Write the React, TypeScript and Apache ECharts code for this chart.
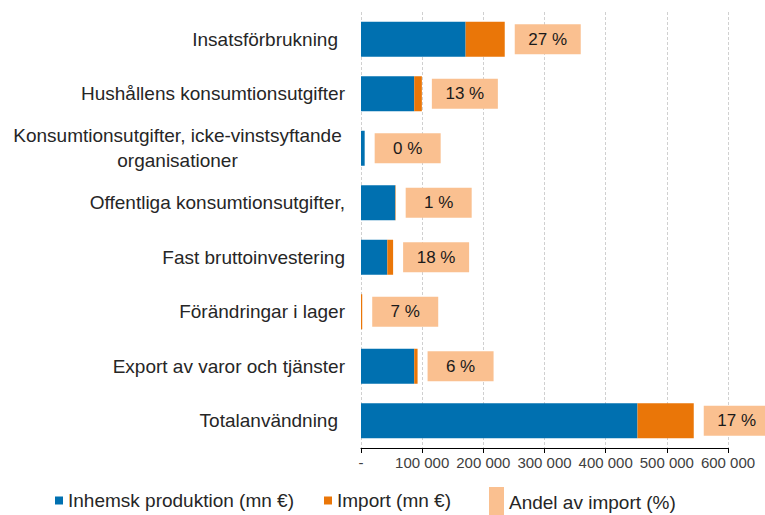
import React, { useEffect, useRef } from "react";
import * as echarts from "echarts";

const categories = [
  "Insatsförbrukning",
  "Hushållens konsumtionsutgifter",
  "Konsumtionsutgifter, icke-vinstsyftande\norganisationer",
  "Offentliga konsumtionsutgifter,",
  "Fast bruttoinvestering",
  "Förändringar i lager",
  "Export av varor och tjänster",
  "Totalanvändning",
];
const domestic = [171000, 87000, 6000, 56000, 43000, 0, 87000, 452000];
const imports = [64000, 12500, 0, 700, 9500, 2000, 5500, 92000];
const importShare = [27, 13, 0, 1, 18, 7, 6, 17];
const seriesNames = ["Inhemsk produktion (mn €)", "Import (mn €)", "Andel av import (%)"];

const FONT = "'Liberation Sans', Arial, sans-serif";

function fmtTick(v: number): string {
  if (v === 0) return "-";
  return String(v).replace(/\B(?=(\d{3})+(?!\d))/g, " ");
}

export default function App() {
  const ref = useRef<HTMLDivElement>(null);
  useEffect(() => {
    if (!ref.current) return;
    const chart = echarts.init(ref.current, undefined, { renderer: "svg" });
    const catData = categories.map((c) =>
      c === "Insatsförbrukning" || c === "Totalanvändning"
        ? { value: c, textStyle: { padding: [0, 7, 0, 0] } }
        : c
    );
    chart.setOption({
      animation: false,
      backgroundColor: "#ffffff",
      textStyle: { fontFamily: FONT },
      grid: { left: 361, right: 37, top: 12, bottom: 67, containLabel: false },
      legend: [
        {
          data: [seriesNames[0], seriesNames[1]],
          left: 50,
          top: 486,
          icon: "rect",
          itemWidth: 8,
          itemHeight: 8,
          itemGap: 30,
          textStyle: { fontFamily: FONT, fontSize: 19, color: "#262626" },
          selectedMode: false,
        },
        {
          data: [seriesNames[2]],
          left: 484,
          top: 482,
          icon: "rect",
          itemWidth: 15,
          itemHeight: 30,
          textStyle: { fontFamily: FONT, fontSize: 19, color: "#262626" },
          selectedMode: false,
        },
      ],
      xAxis: {
        type: "value",
        min: 0,
        max: 600000,
        interval: 100000,
        axisLine: { show: true, lineStyle: { color: "#000000", width: 1 } },
        axisTick: { show: true, length: 5, lineStyle: { color: "#000000" } },
        axisLabel: {
          formatter: fmtTick,
          fontFamily: FONT,
          fontSize: 15,
          color: "#404040",
          margin: 7,
        },
        splitLine: { show: true, lineStyle: { color: "#d0d0d0", type: [3, 2], width: 1 } },
      },
      yAxis: {
        type: "category",
        data: catData,
        inverse: true,
        axisLine: { show: false },
        axisTick: { show: false },
        axisLabel: {
          margin: 16,
          fontFamily: FONT,
          fontSize: 19,
          color: "#262626",
          formatter: (v: string) => {
            if (v.indexOf("\n") >= 0) {
              return v
                .split("\n")
                .map((s) => "{c|" + s + "}")
                .join("\n");
            }
            return v;
          },
          rich: {
            c: { width: 335, align: "center", fontSize: 19, lineHeight: 25, fontFamily: FONT, color: "#262626" },
          },
        },
      },
      series: [
        {
          name: seriesNames[0],
          type: "bar",
          stack: "a",
          barWidth: 35,
          data: domestic,
          itemStyle: { color: "#0070B0" },
        },
        {
          name: seriesNames[1],
          type: "bar",
          stack: "a",
          barWidth: 35,
          data: imports,
          itemStyle: { color: "#EA7608" },
          label: {
            show: true,
            position: "right",
            distance: 10,
            formatter: (p: any) => "{b|" + importShare[p.dataIndex] + " %}",
            rich: {
              b: {
                width: 66,
                height: 30,
                lineHeight: 30,
                align: "center",
                verticalAlign: "middle",
                backgroundColor: "#FAC090",
                fontSize: 17,
                fontFamily: FONT,
                color: "#1a1a1a",
              },
            },
          },
        },
        {
          name: seriesNames[2],
          type: "bar",
          stack: "a",
          data: [],
          itemStyle: { color: "#FAC090" },
        },
      ],
    });
    return () => chart.dispose();
  }, []);
  return <div ref={ref} style={{ width: 765, height: 515, position: "absolute", left: 0, top: 0 }} />;
}
